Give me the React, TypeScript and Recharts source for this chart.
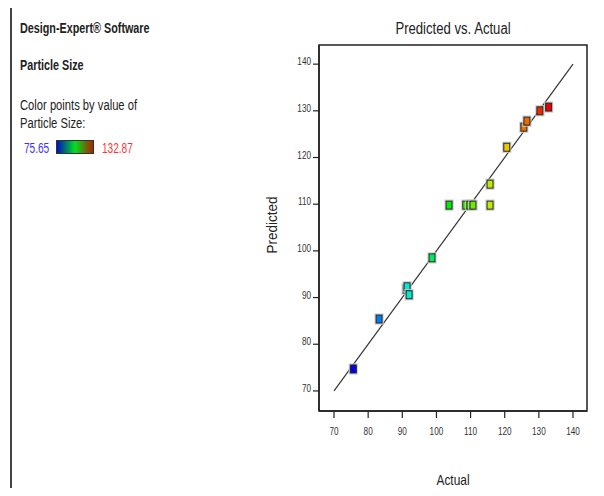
import {
  ScatterChart,
  Scatter,
  XAxis,
  YAxis,
  ReferenceLine,
  ReferenceArea,
  Label,
} from "recharts";

const FONT = '"Liberation Sans", Arial, sans-serif';

const ACTUAL = [
  75.65, 83.2, 91.1, 91.4, 92.0, 98.7, 103.7, 108.6, 109.8, 110.7, 115.7,
  115.7, 120.6, 125.6, 126.5, 130.3, 132.87,
];
const PREDICTED = [
  74.7, 85.4, 91.8, 92.3, 90.6, 98.5, 109.8, 109.8, 109.8, 109.8, 109.8,
  114.3, 122.2, 126.5, 127.8, 130.0, 130.8,
];
const TICKS = [70, 80, 90, 100, 110, 120, 130, 140];
const MIN_VAL = 75.65;
const MAX_VAL = 132.87;

const X_DOMAIN = [65.6, 144.1];
const Y_DOMAIN = [65.7, 144.1];

// hue sweep blue -> green -> red, same as the color-by-value legend
function colorFor(v: number) {
  const t = Math.min(1, Math.max(0, (v - MIN_VAL) / (MAX_VAL - MIN_VAL)));
  const hue = 240 * (1 - t);
  return `hsl(${hue.toFixed(0)}, 100%, 46%)`;
}

const points = ACTUAL.map((a, i) => ({ actual: a, predicted: PREDICTED[i] }));

function SquareMarker(props: any) {
  const { cx, cy, payload } = props;
  if (cx == null || cy == null) return null;
  return (
    <g>
      <rect x={cx - 4} y={cy - 5} width={8} height={10} fill="none" stroke="#ccc" strokeWidth={1.2} />
      <rect
        x={cx - 3}
        y={cy - 4}
        width={6}
        height={8}
        fill={colorFor(payload.actual)}
        stroke="#222"
        strokeWidth={1}
      />
    </g>
  );
}

// condensed tick text, the original uses a narrow UI font
function XTick(props: any) {
  const { x, y, payload } = props;
  return (
    <text
      transform={`translate(${x},${y + 11}) scale(0.82,1)`}
      textAnchor="middle"
      fontSize={10}
      fill="#333"
    >
      {payload.value}
    </text>
  );
}

function YTick(props: any) {
  const { x, y, payload } = props;
  return (
    <text
      transform={`translate(${x},${y + 1}) scale(0.82,1)`}
      textAnchor="end"
      fontSize={10}
      fill="#333"
    >
      {payload.value}
    </text>
  );
}

const panelText = (scale: number) => ({
  position: "absolute" as const,
  left: 20,
  fontSize: 14,
  whiteSpace: "nowrap" as const,
  transform: `scaleX(${scale})`,
  transformOrigin: "left",
});

export default function App() {
  return (
    <div
      style={{
        position: "relative",
        width: 604,
        height: 496,
        margin: -8,
        background: "#fff",
        fontFamily: FONT,
        color: "#222",
        overflow: "hidden",
      }}
    >
      {/* frame lines */}
      <div style={{ position: "absolute", left: 10, top: 4, width: 594, height: 2, background: "#333" }} />
      <div style={{ position: "absolute", left: 10, top: 4, width: 2, height: 492, background: "#444" }} />

      {/* left info panel */}
      <div style={{ ...panelText(0.77), top: 20, fontWeight: "bold" }}>Design-Expert® Software</div>
      <div style={{ ...panelText(0.77), top: 57, fontWeight: "bold" }}>Particle Size</div>
      <div style={{ ...panelText(0.8), top: 96, lineHeight: "18px" }}>
        Color points by value of
        <br />
        Particle Size:
      </div>
      <div style={{ ...panelText(0.72), left: 24, top: 140, color: "#3333ff" }}>
        {MIN_VAL.toFixed(2)}
      </div>
      <div
        style={{
          position: "absolute",
          left: 56,
          top: 140,
          width: 36,
          height: 12,
          border: "1px solid #333",
          background: "linear-gradient(to right, #0010c0, #00e020 50%, #b02000)",
        }}
      />
      <div style={{ ...panelText(0.72), left: 102, top: 140, color: "#ff3333" }}>
        {MAX_VAL.toFixed(2)}
      </div>

      {/* title */}
      <div
        style={{
          position: "absolute",
          left: 319,
          width: 268,
          top: 20,
          textAlign: "center",
          fontSize: 16,
          transform: "scaleX(0.82)",
          transformOrigin: "center",
        }}
      >
        Predicted vs. Actual
      </div>

      <div style={{ position: "absolute", left: 0, top: 0 }}>
        <ScatterChart
          width={604}
          height={496}
          margin={{ top: 45, right: 17, bottom: 55, left: 279 }}
          style={{ fontFamily: FONT }}
        >
          <XAxis
            type="number"
            dataKey="actual"
            domain={X_DOMAIN}
            ticks={TICKS}
            allowDataOverflow
            height={30}
            tickSize={7}
            tickMargin={6}
            axisLine={{ stroke: "#222", strokeWidth: 1.5 }}
            tickLine={{ stroke: "#222", strokeWidth: 1.2 }}
            tick={<XTick />}
          >
            <Label
              content={(p: any) => {
                const vb = p.viewBox;
                const cx = vb.x + vb.width / 2;
                const cy = vb.y + 74;
                return (
                  <text
                    transform={`translate(${cx},${cy}) scale(0.85,1)`}
                    textAnchor="middle"
                    fontSize={14}
                    fill="#222"
                  >
                    Actual
                  </text>
                );
              }}
            />
          </XAxis>
          <YAxis
            type="number"
            dataKey="predicted"
            domain={Y_DOMAIN}
            ticks={TICKS}
            allowDataOverflow
            width={40}
            tickSize={6}
            tickMargin={2}
            axisLine={{ stroke: "#222", strokeWidth: 1.5 }}
            tickLine={{ stroke: "#222", strokeWidth: 1.2 }}
            tick={<YTick />}
          >
            <Label
              content={(p: any) => {
                const vb = p.viewBox;
                const cx = vb.x - 2;
                const cy = vb.y + vb.height / 2 - 3;
                return (
                  <text
                    transform={`translate(${cx},${cy}) rotate(-90) scale(0.9,1)`}
                    textAnchor="middle"
                    fontSize={15}
                    fill="#222"
                  >
                    Predicted
                  </text>
                );
              }}
            />
          </YAxis>
          <ReferenceArea
            x1={X_DOMAIN[0]}
            x2={X_DOMAIN[1]}
            y1={Y_DOMAIN[0]}
            y2={Y_DOMAIN[1]}
            fill="none"
            stroke="#222"
            strokeWidth={1.5}
            ifOverflow="visible"
          />
          <ReferenceLine
            segment={[
              { x: 70, y: 70 },
              { x: 140, y: 140 },
            ]}
            stroke="#333"
            strokeWidth={1.2}
          />
          <Scatter data={points} shape={SquareMarker} isAnimationActive={false} />
        </ScatterChart>
      </div>
    </div>
  );
}
